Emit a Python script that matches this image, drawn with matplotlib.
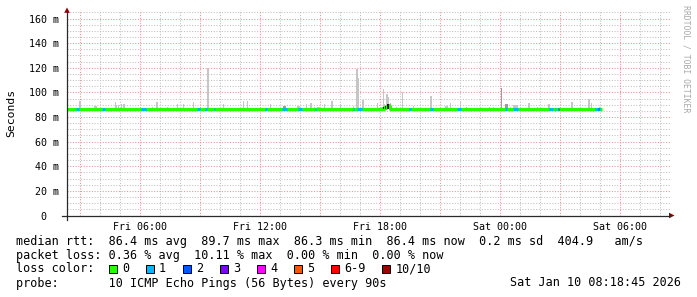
import matplotlib
matplotlib.use("Agg")
import matplotlib.pyplot as plt
from matplotlib.patches import Rectangle, Polygon
from matplotlib.lines import Line2D

# ---------------- data (time in hours since Fri 00:00, values in ms) ----------------
view_start, view_end = 2.35, 32.5
sample_step = 0.05  # hours per plotted sample

median_times = [2.35, 18.10, 18.15, 18.20, 18.25, 18.30, 18.35, 18.40, 18.45, 18.50, 29.10]
median_values = [86.4, 87.2, 86.8, 88.0, 87.4, 89.2, 88.4, 89.8, 88.8, 86.4, 86.4]

smoke_times = [2.95, 3.00, 3.20, 3.70, 3.75, 3.80, 4.75, 4.85, 4.90, 5.10, 5.15, 5.20,
               5.55, 5.60, 5.65, 5.70, 5.75, 6.60, 6.80, 6.85, 7.35, 7.85, 8.20, 8.25,
               8.30, 8.55, 8.65, 8.75, 9.35, 9.40, 9.45, 9.50, 9.75, 9.80, 10.05, 10.20,
               10.25, 10.30, 10.40, 10.45, 10.50, 10.55, 11.00, 11.20, 11.30, 11.35, 11.50,
               12.50, 13.15, 13.20, 13.25, 13.85, 13.90, 13.95, 14.30, 14.50, 14.55, 14.70,
               14.85, 14.90, 14.95, 15.00, 15.20, 15.55, 15.60, 16.00, 16.65, 16.80, 16.85,
               16.90, 17.10, 17.15, 17.85, 18.15, 18.20, 18.30, 18.35, 18.40, 18.50, 18.80,
               19.10, 19.65, 20.50, 20.55, 21.25, 21.30, 21.35, 21.50, 22.00, 22.30, 23.45,
               23.65, 24.05, 24.25, 24.30, 24.35, 24.50, 24.65, 24.70, 24.75, 24.80, 24.85,
               25.40, 25.45, 25.85, 26.40, 26.45, 27.55, 27.60, 28.00, 28.40, 28.45, 28.55,
               28.95]
smoke_tops = [92.8, 92.8, 87.5, 88.8, 88.8, 88.8, 92.0, 89.5, 89.5, 90.7, 90.7, 90.7,
              87.5, 87.5, 87.5, 87.5, 87.5, 88.0, 92.5, 92.5, 88.5, 90.5, 90.5, 90.5,
              90.5, 97.0, 92.0, 90.5, 120.0, 119.0, 92.5, 92.5, 92.8, 92.8, 90.5, 90.5,
              90.5, 90.5, 87.5, 87.5, 87.5, 87.5, 87.5, 92.8, 92.8, 92.8, 92.0,
              90.5, 89.0, 89.0, 89.0, 89.0, 89.0, 89.0, 90.5, 91.5, 91.5, 88.0,
              88.5, 88.5, 88.5, 88.5, 90.5, 92.8, 92.8, 90.5, 89.0, 118.6, 118.6,
              112.0, 94.0, 94.0, 91.5, 103.0, 90.5, 99.0, 99.0, 96.5, 91.5, 88.5,
              100.0, 89.0, 97.0, 97.0, 89.0, 89.0, 89.0, 91.5, 92.8, 88.5, 88.0,
              88.0, 103.4, 90.6, 90.6, 90.6, 88.5, 89.5, 89.5, 89.5, 89.5, 89.5,
              91.5, 91.5, 88.5, 90.5, 90.5, 92.0, 92.0, 88.5, 94.6, 94.6, 91.0,
              88.5]
# samples where several pings are in the smoke (darker grey)
medium_smoke_times = [13.15, 13.20, 13.25, 24.05, 24.25, 24.30, 24.35]
# dense smoke right around the median (near black)
dense_times = [18.15, 18.25, 18.35, 18.45]
dense_tops = [88.2, 89.0, 90.2, 90.6]

loss_start = [2.80, 4.10, 6.05, 8.85, 9.25, 9.70, 12.25, 13.10, 13.90, 14.75, 16.65,
              16.85, 19.45, 20.50, 21.85, 24.25, 24.65, 26.45, 26.75, 26.90, 28.75, 28.90]
loss_end = [2.95, 4.25, 6.30, 9.00, 9.35, 9.75, 12.35, 13.35, 14.10, 14.80, 16.70,
            17.10, 19.55, 20.65, 22.05, 24.35, 24.90, 26.65, 26.80, 26.95, 29.00, 28.95]
loss_level = [1, 1, 1, 1, 1, 1, 1, 1, 1, 1, 1,
              1, 1, 1, 1, 1, 1, 1, 1, 2, 1, 2]

loss_labels = ["0", "1", "2", "3", "4", "5", "6-9", "10/10"]
loss_colors = ["#26ff00", "#00b8ff", "#0059ff", "#7e00ff", "#ff00ff", "#ff5500", "#ff0000", "#a10000"]

x_ticks = [6, 12, 18, 24, 30]
x_tick_labels = ["Fri 06:00", "Fri 12:00", "Fri 18:00", "Sat 00:00", "Sat 06:00"]
y_ticks = [0, 20, 40, 60, 80, 100, 120, 140, 160]
y_tick_labels = ["0  ", "20 m", "40 m", "60 m", "80 m", "100 m", "120 m", "140 m", "160 m"]

line_rtt = "median rtt:  86.4 ms avg  89.7 ms max  86.3 ms min  86.4 ms now  0.2 ms sd  404.9   am/s"
line_loss = "packet loss: 0.36 % avg  10.11 % max  0.00 % min  0.00 % now"
line_probe = "probe:       10 ICMP Echo Pings (56 Bytes) every 90s"
stamp = "Sat Jan 10 08:18:45 2026"

# ---------------- layout ----------------
W, H, DPI = 697, 297, 100
MONO = "DejaVu Sans Mono"
fig = plt.figure(figsize=(W / DPI, H / DPI), dpi=DPI, facecolor="white")

x0, x1 = 67, 670
y_bot, y_top = 215.5, 9.9
ax = fig.add_axes([x0 / W, 1 - y_bot / H, (x1 - x0) / W, (y_bot - y_top) / H])
ax.set_xlim(view_start, view_end)
ax.set_ylim(0, 167)
ax.set_facecolor("white")
for s in ax.spines.values():
    s.set_visible(False)

# grid
minor_c, major_c = "#c0c0c0", "#e09898"
dots = (0, (1, 1.6))
for v in range(5, 167, 5):
    if v % 20:
        ax.axhline(v, color=minor_c, lw=0.75, ls=dots, zorder=1)
for v in range(20, 167, 20):
    ax.axhline(v, color=major_c, lw=0.75, ls=dots, zorder=1.1)
for h in range(3, 33):
    if h % 3:
        ax.axvline(h, color=minor_c, lw=0.75, ls=dots, zorder=1)
for h in range(3, 33, 3):
    ax.axvline(h, color=major_c, lw=0.75, ls=dots, zorder=1.1)

# smoke
base = 86.4
smoke_cols = ["#9c9c9c" if t in medium_smoke_times else "#c6c6c6" for t in smoke_times]
ax.bar(smoke_times, [t - base for t in smoke_tops], bottom=base, width=sample_step,
       color=smoke_cols, linewidth=0, zorder=2)

# median line (loss 0)
ax.plot(median_times, median_values, drawstyle="steps-post", color=loss_colors[0],
        lw=2.2, solid_capstyle="butt", zorder=3)
ax.bar(dense_times, [t - base for t in dense_tops], bottom=base, width=sample_step,
       color="#1a1a1a", linewidth=0, zorder=3.5)
# loss-coloured segments
for s, e, l in zip(loss_start, loss_end, loss_level):
    ax.plot([s, e], [base, base], color=loss_colors[l], lw=2.2, solid_capstyle="butt", zorder=4)

ax.set_xticks(x_ticks)
ax.set_xticklabels(x_tick_labels, fontsize=7.2, family=MONO)
ax.set_yticks(y_ticks)
ax.set_yticklabels(y_tick_labels, fontsize=7.2, family=MONO)
ax.tick_params(axis="both", length=0)
ax.tick_params(axis="x", pad=5)
ax.tick_params(axis="y", pad=6)

# ---------------- overlay in pixel coordinates ----------------
ov = fig.add_axes([0, 0, 1, 1], zorder=10)
ov.set_xlim(0, W)
ov.set_ylim(H, 0)
ov.axis("off")
ov.patch.set_alpha(0)

axis_c = "#2a2a2a"
ov.add_line(Line2D([67, 67], [219.5, 11], color=axis_c, lw=0.9))
ov.add_line(Line2D([62, 670], [215.5, 215.5], color=axis_c, lw=0.9))
ov.add_patch(Polygon([[64.2, 12.8], [69.8, 12.8], [67, 7.5]], closed=True, color="#8b0000", lw=0))
ov.add_patch(Polygon([[669, 212.7], [669, 218.3], [674.5, 215.5]], closed=True, color="#8b0000", lw=0))

ov.text(11, 113, "Seconds", rotation=90, ha="center", va="center", fontsize=8.2, family=MONO)
ov.text(686, 5, "RRDTOOL / TOBI OETIKER", rotation=270, ha="center", va="top",
        fontsize=5.9, family=MONO, color="#a8a8a8")

FS = 8.5
ov.text(15.5, 241, line_rtt, ha="left", va="center", fontsize=FS, family=MONO)
ov.text(15.5, 255, line_loss, ha="left", va="center", fontsize=FS, family=MONO)
ov.text(15.5, 269, "loss color:", ha="left", va="center", fontsize=FS, family=MONO)
ov.text(15.5, 283, line_probe, ha="left", va="center", fontsize=FS, family=MONO)
ov.text(680.5, 283, stamp, ha="right", va="center", fontsize=FS, family=MONO)

cw = 7.1
x = 108.5
for lab, col in zip(loss_labels, loss_colors):
    ov.add_patch(Rectangle((x, 265), 8, 8, facecolor=col, edgecolor="black", lw=0.7))
    ov.text(x + 13.5, 269, lab, ha="left", va="center", fontsize=FS, family=MONO)
    x += 14 + len(lab) * cw + 16

fig.savefig("out.png", dpi=DPI, facecolor="white")
